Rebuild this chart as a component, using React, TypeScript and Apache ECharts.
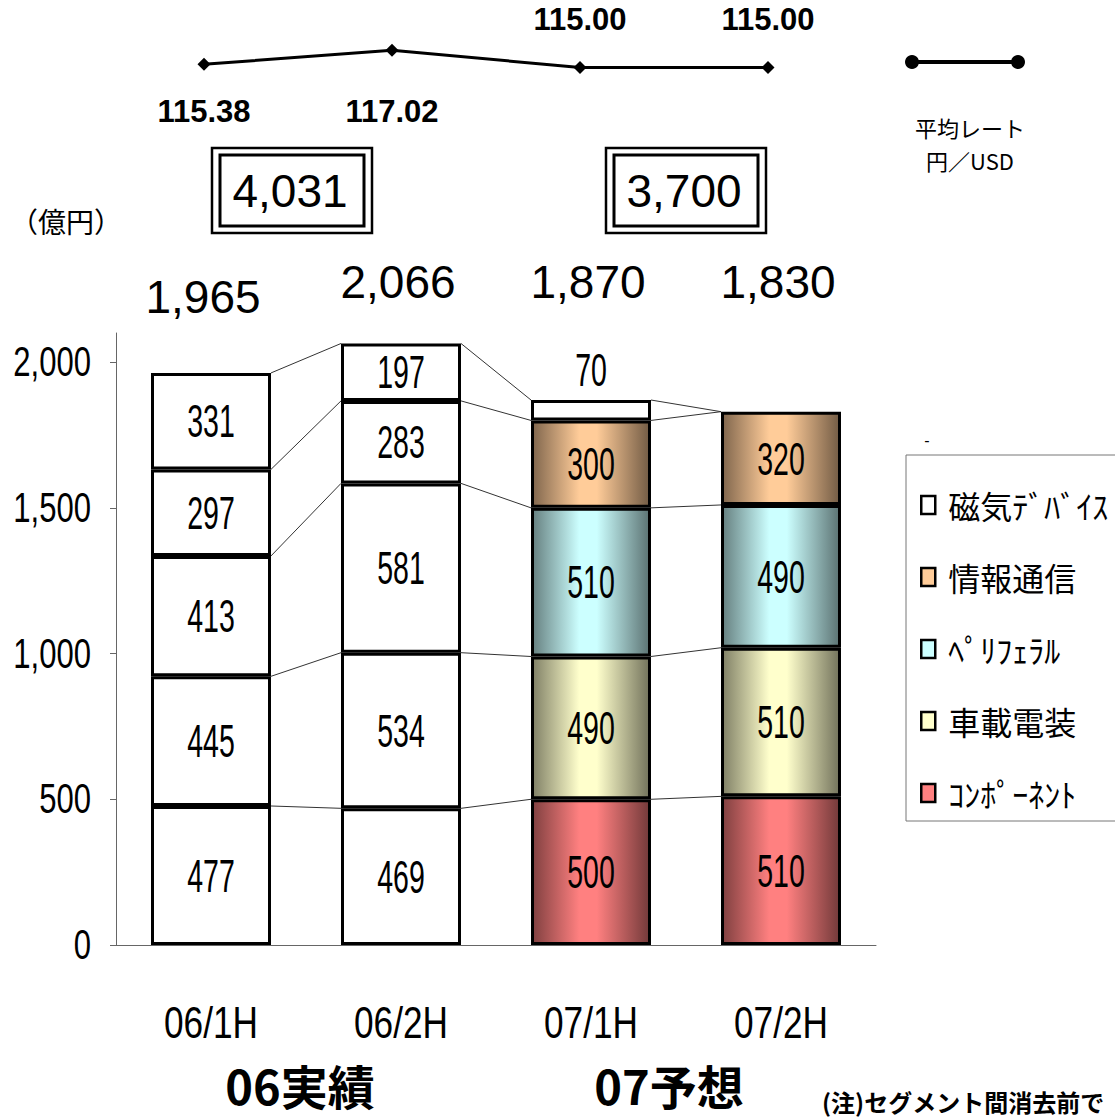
import React, { useEffect, useRef } from "react";
import * as echarts from "echarts";

// ---- data ----
const categories = ["06/1H", "06/2H", "07/1H", "07/2H"];
const components = [477, 469, 500, 510]; // ｺﾝﾎﾟｰﾈﾝﾄ
const automotive = [445, 534, 490, 510]; // 車載電装
const peripheral = [413, 581, 510, 490]; // ﾍﾟﾘﾌｪﾗﾙ
const infoComm = [297, 283, 300, 320]; // 情報通信
const magnetic = [331, 197, 70, null]; // 磁気ﾃﾞﾊﾞｲｽ
const totals = [1965, 2066, 1870, 1830];
const rates = [115.38, 117.02, 115.0, 115.0];
const yearTotals = [4031, 3700];
const yearLabels = ["06実績", "07予想"];
const yTicks = [0, 500, 1000, 1500, 2000];

const SANS = "'Liberation Sans', Arial, 'Noto Sans CJK JP', sans-serif";
const JP = "'Noto Sans CJK JP', sans-serif";

function shade(hex: string, f: number) {
  const n = parseInt(hex.slice(1), 16);
  const r = Math.round(((n >> 16) & 255) * f);
  const g = Math.round(((n >> 8) & 255) * f);
  const b = Math.round((n & 255) * f);
  return `rgb(${r},${g},${b})`;
}
function grad(hex: string) {
  return {
    type: "linear", x: 0, y: 0, x2: 1, y2: 0,
    colorStops: [
      { offset: 0, color: shade(hex, 0.5) },
      { offset: 0.4, color: hex },
      { offset: 0.55, color: hex },
      { offset: 1, color: shade(hex, 0.45) },
    ],
  };
}

const segs = [
  { name: "ｺﾝﾎﾟｰﾈﾝﾄ", data: components, color: "#FF8080" },
  { name: "車載電装", data: automotive, color: "#FFFFCC" },
  { name: "ﾍﾟﾘﾌｪﾗﾙ", data: peripheral, color: "#CCFFFF" },
  { name: "情報通信", data: infoComm, color: "#FFCC99" },
  { name: "磁気ﾃﾞﾊﾞｲｽ", data: magnetic, color: "#FFFFFF" },
];

const BAR_W = 120;

function txt(x: number, y: number, text: string, font: string, align: string, scaleX = 1) {
  return {
    type: "text", x, y, scaleX,
    style: { text, font, fill: "#000", textAlign: align, textVerticalAlign: "middle" },
  };
}

export default function App() {
  const ref = useRef<HTMLDivElement>(null);
  useEffect(() => {
    document.body.style.margin = "0";
    const chart = echarts.init(ref.current!, null, { renderer: "svg" });

    // cumulative tops per level
    const cum: number[][] = [];
    segs.forEach((s, k) => {
      cum.push(categories.map((_, i) => (k > 0 ? cum[k - 1][i] : 0) + (s.data[i] ?? 0)));
    });
    const connectors: number[][] = [];
    for (let i = 0; i < categories.length - 1; i++) {
      for (let k = 0; k < segs.length; k++) connectors.push([i, cum[k][i], cum[k][i + 1]]);
    }
    const segLabels: number[][] = [];
    segs.forEach((s, k) => {
      s.data.forEach((v, i) => {
        if (v == null) return;
        segLabels.push([i, k > 0 ? cum[k - 1][i] : 0, cum[k][i], v]);
      });
    });

    const barSeries = segs.map((s, k) => ({
      name: s.name,
      type: "bar",
      stack: "total",
      barWidth: BAR_W,
      xAxisIndex: 0,
      yAxisIndex: 0,
      z: 3,
      itemStyle: { color: s.color, borderColor: "#000", borderWidth: 3 },
      data: s.data.map((v, i) => {
        if (v == null) return null;
        return {
          value: v,
          itemStyle: { color: i < 2 || k === 4 ? "#FFFFFF" : grad(s.color) },
        };
      }),
    }));

    const option: any = {
      animation: false,
      grid: [
        { left: 116, top: 333, width: 760, height: 612, outerBoundsMode: "none", containLabel: false },
        { left: 110, top: 25, width: 752, height: 68, outerBoundsMode: "none", containLabel: false },
      ],
      xAxis: [
        {
          type: "category", data: categories, gridIndex: 0,
          axisLine: { lineStyle: { color: "#666", width: 1 } },
          axisTick: { inside: true, length: 18, lineStyle: { color: "#666" } },
          axisLabel: { show: false },
        },
        { type: "category", data: categories, gridIndex: 1, show: false },
      ],
      yAxis: [
        {
          type: "value", min: 0, max: 2100, interval: 500, gridIndex: 0,
          axisLine: { show: true, lineStyle: { color: "#666", width: 1 } },
          axisTick: { show: true, length: 6, customValues: yTicks, lineStyle: { color: "#666" } },
          axisLabel: { show: false },
          splitLine: { show: false },
        },
        { type: "value", min: 112, max: 120, gridIndex: 1, show: false },
      ],
      legend: {
        orient: "vertical", left: 906, top: 455,
        data: ["磁気ﾃﾞﾊﾞｲｽ", "情報通信", "ﾍﾟﾘﾌｪﾗﾙ", "車載電装", "ｺﾝﾎﾟｰﾈﾝﾄ"],
        icon: "rect", itemWidth: 14, itemHeight: 18, itemGap: 32,
        padding: [30, 10, 8, 14],
        borderColor: "#777", borderWidth: 1,
        itemStyle: { borderColor: "#000", borderWidth: 2.5 },
        textStyle: { fontFamily: JP, fontSize: 32, lineHeight: 40, color: "#000", padding: [0, 0, 0, 8] },
      },
      series: [
        {
          type: "custom", name: "connectors", xAxisIndex: 0, yAxisIndex: 0, z: 1,
          encode: { x: 0, y: [1, 2] },
          data: connectors,
          renderItem: (params: any, api: any) => {
            const i = api.value(0);
            const p1 = api.coord([i, api.value(1)]);
            const p2 = api.coord([i + 1, api.value(2)]);
            return {
              type: "line",
              shape: { x1: p1[0] + BAR_W / 2, y1: p1[1], x2: p2[0] - BAR_W / 2, y2: p2[1] },
              style: { stroke: "#333", lineWidth: 1 },
            };
          },
        },
        ...barSeries,
        {
          type: "custom", name: "segLabels", xAxisIndex: 0, yAxisIndex: 0, z: 5,
          encode: { x: 0, y: [1, 2] },
          data: segLabels,
          renderItem: (params: any, api: any) => {
            const i = api.value(0);
            const b = api.value(1);
            const t = api.value(2);
            const v = api.value(3);
            const x = api.coord([i, 0])[0];
            const y = v < 100 ? api.coord([i, t])[1] - 30 : api.coord([i, (b + t) / 2])[1];
            return txt(x, y, String(v), `46px ${SANS}`, "center", 0.62);
          },
        },
        {
          type: "custom", name: "yLabels", xAxisIndex: 0, yAxisIndex: 0, z: 5,
          encode: { x: 0, y: 1 },
          data: yTicks.map((v) => [0, v]),
          renderItem: (params: any, api: any) => {
            const v = api.value(1);
            const y = api.coord([0, v])[1];
            return txt(params.coordSys.x - 25, y, v.toLocaleString("en-US"), `42px ${SANS}`, "right", 0.74);
          },
        },
        {
          type: "custom", name: "xLabels", xAxisIndex: 0, yAxisIndex: 0, z: 5,
          encode: { x: 0, y: 1 },
          data: categories.map((_, i) => [i, 0]),
          renderItem: (params: any, api: any) => {
            const i = api.value(0);
            const x = api.coord([i, 0])[0];
            const y = params.coordSys.y + params.coordSys.height + 78;
            return txt(x, y, categories[i], `44px ${SANS}`, "center", 0.8);
          },
        },
        {
          type: "custom", name: "totals", xAxisIndex: 0, yAxisIndex: 0, z: 4,
          encode: { x: 0, y: 1 },
          data: totals.map((t, i) => [i, t]),
          renderItem: (params: any, api: any) => {
            const i = api.value(0);
            const x = api.coord([i, 0])[0];
            return txt(x - (i === 0 ? 8 : 3), i === 0 ? 297 : 282, api.value(1).toLocaleString("en-US"), `46px ${SANS}`, "center");
          },
        },
        {
          type: "line", name: "平均レート", xAxisIndex: 1, yAxisIndex: 1,
          data: rates.map((r, i) => ({
            value: r,
            label: i === 0 ? { position: "bottom", distance: 25 }
              : i === 1 ? { position: "bottom", distance: 39 }
              : { position: "top", distance: 26 },
          })),
          symbol: "diamond", symbolSize: 13,
          lineStyle: { color: "#000", width: 3 },
          itemStyle: { color: "#000" },
          label: {
            show: true, fontFamily: SANS, fontWeight: "bold", fontSize: 31, color: "#000",
            formatter: (p: any) => Number(p.value).toFixed(2),
          },
        },
      ],
      graphic: [
        { type: "text", x: 10, y: 207, style: { text: "（億円）", font: `28px ${JP}`, fill: "#000" } },
        // year boxes
        ...yearTotals.flatMap((t, j) => {
          const cx = j === 0 ? 292 : 686;
          return [
            { type: "rect", shape: { x: cx - 80, y: 148, width: 160, height: 85 }, style: { fill: "#fff", stroke: "#000", lineWidth: 2.5 } },
            { type: "rect", shape: { x: cx - 72, y: 155, width: 144, height: 71 }, style: { fill: "none", stroke: "#000", lineWidth: 3 } },
            txt(cx - 2, 191, t.toLocaleString("en-US"), `46px ${SANS}`, "center"),
          ];
        }),
        // rate legend
        { type: "line", shape: { x1: 912, y1: 62, x2: 1018, y2: 62 }, style: { stroke: "#000", lineWidth: 4 } },
        { type: "circle", shape: { cx: 912, cy: 62, r: 7 }, style: { fill: "#000" } },
        { type: "circle", shape: { cx: 1018, cy: 62, r: 7 }, style: { fill: "#000" } },
        txt(970, 127, "平均レート", `22px ${JP}`, "center"),
        txt(970, 160, "円／USD", `22px ${JP}`, "center"),
        txt(927, 440, "-", `16px ${SANS}`, "center"),
        // bottom labels
        ...yearLabels.map((s, j) => txt(j === 0 ? 300 : 669, 1084, s, `bold 47px ${JP}`, "center")),
        txt(822, 1101, "(注)セグメント間消去前で", `bold 24px ${JP}`, "left"),
      ],
    };
    chart.setOption(option);
    return () => chart.dispose();
  }, []);
  return <div ref={ref} style={{ width: 1115, height: 1119 }} />;
}
